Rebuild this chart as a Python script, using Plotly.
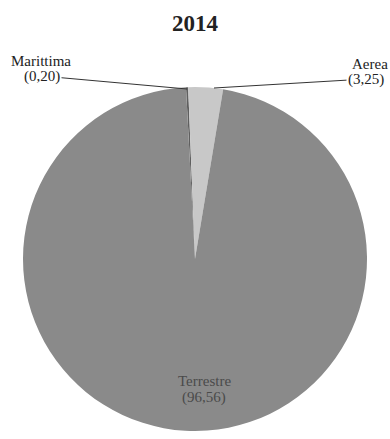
import plotly.graph_objects as go

categories = ["Marittima", "Aerea", "Terrestre"]
values = [0.20, 3.25, 96.56]
colors = ["#5f5f5f", "#c8c8c8", "#8a8a8a"]
title_text = "2014"

def fmt(v):
    return f"({v:.2f})".replace(".", ",")

W, H = 390, 439
ml, mr, mt, mb = 23, 23, 87, 8

fig = go.Figure(go.Pie(
    labels=categories,
    values=values,
    sort=False,
    direction="clockwise",
    rotation=-3,
    marker=dict(colors=colors, line=dict(width=0)),
    textinfo="none",
    hoverinfo="label+value",
    showlegend=False,
))

def px_to_paper(x, y):
    return (x - ml) / (W - ml - mr), 1 - (y - mt) / (H - mt - mb)

FAM = "Liberation Serif, Times New Roman, serif"
font = dict(family=FAM, size=15, color="#222")

def label(text, cx, cy, f=font):
    x, y = px_to_paper(cx, cy)
    fig.add_annotation(x=x, y=y, xref="paper", yref="paper", text=text,
                       showarrow=False, xanchor="center", yanchor="middle", font=f)

def leader(text, cx, cy, tipx, tipy):
    x, y = px_to_paper(tipx, tipy)
    fig.add_annotation(x=x, y=y, xref="paper", yref="paper", text=text,
                       showarrow=True, arrowhead=0, arrowwidth=1, arrowcolor="#333",
                       ax=cx - tipx, ay=cy - tipy, xanchor="center", yanchor="middle",
                       font=font)

# Marittima
label(categories[0], 41, 61)
leader(fmt(values[0]), 42, 76, 187, 89)
# Aerea
label(categories[1], 370, 64)
leader(fmt(values[1]), 366, 79, 214, 88)
# Terrestre (inside)
tf = dict(family=FAM, size=15, color="#4a4a4a")
label(categories[2], 204, 381, tf)
label(fmt(values[2]), 204, 397, tf)

fig.update_layout(
    width=W, height=H,
    margin=dict(l=ml, r=mr, t=mt, b=mb),
    paper_bgcolor="white", plot_bgcolor="white",
    title=dict(text=f"<b>{title_text}</b>", x=0.5, xanchor="center", y=1 - 23 / H, yanchor="middle",
               font=dict(family=FAM, size=23, color="#222")),
)

fig.write_html("out.html", config={"displayModeBar": False},
               post_script="document.body.style.margin='0';document.body.style.overflow='hidden';")
